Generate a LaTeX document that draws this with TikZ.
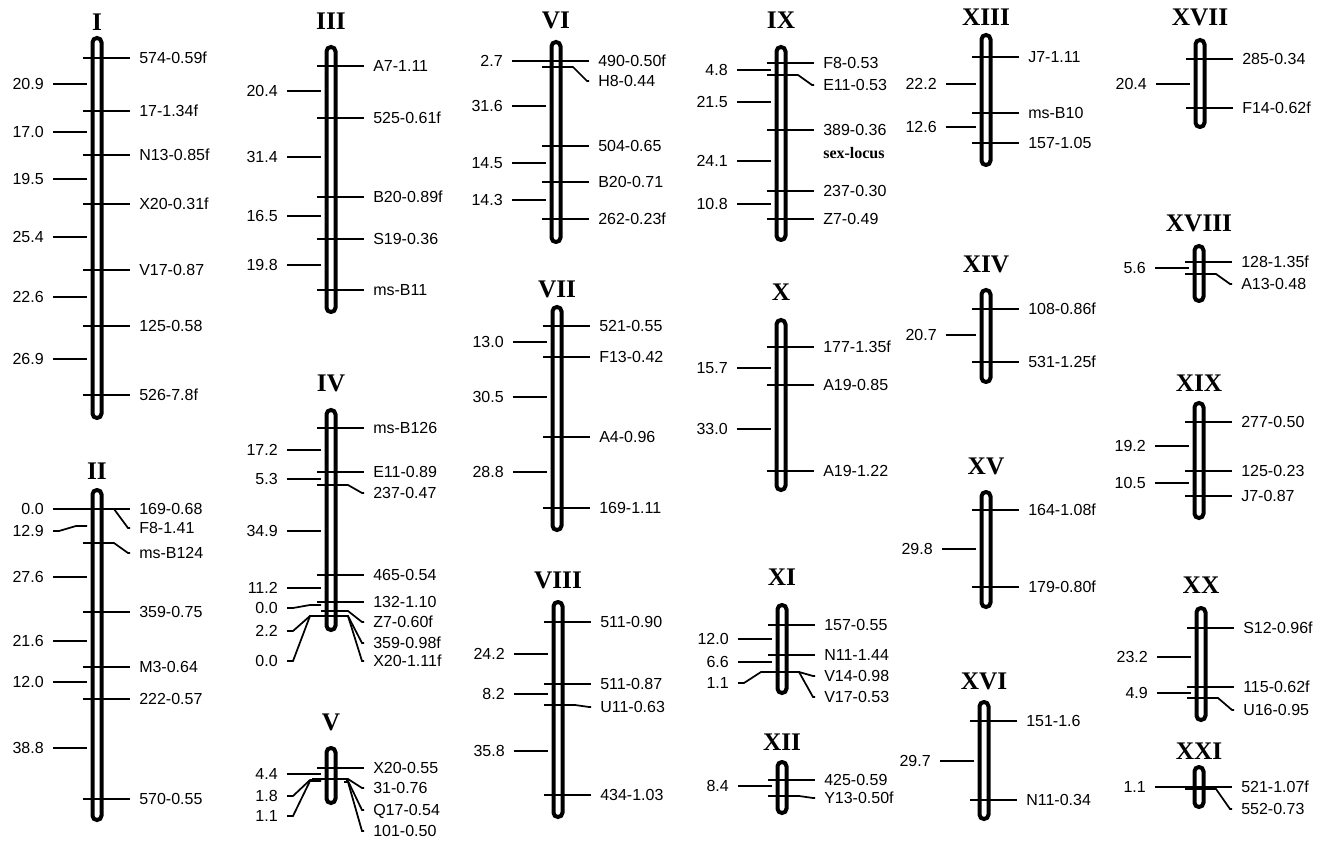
\documentclass[tikz,border=0pt]{standalone}
\usepackage{fontspec}
\setmainfont{Liberation Serif}
\newfontfamily\labfont{Liberation Sans}
\tikzset{
  chrombar/.style={line width=3pt, rounded corners=3.3pt, fill=white},
  tk/.style={line width=1.3pt},
  lab/.style={font=\labfont\fontsize{12}{14}\selectfont, inner sep=0pt, text height=8.6pt, text depth=0pt},
  ttl/.style={font=\bfseries\fontsize{19}{22}\selectfont, inner sep=0pt},
  sexlab/.style={font=\rmfamily\bfseries\fontsize{12}{14}\selectfont, inner sep=0pt, text height=8.6pt, text depth=0pt}
}
\newcommand\LGgap{53}
\newcommand\LGchrom[6]{% name x top bottom title titleY
  \node[ttl] (t#1) at (#2,#6) {#5};
  \draw[chrombar] (#2-4.5,#3) rectangle (#2+4.5,#4);}
\newcommand\LGmk[4]{% name x y text
  \coordinate (#1a) at (#2-14,#3);
  \node[lab,anchor=west] (#1) at (#2+42,#3) {#4};
  \draw[tk] (#1a) -- ([xshift=-6.75pt]#1.west);}
\newcommand\LGmkb[6]{% name x ytick ylab text startoffset
  \coordinate (#1a) at (#2-#6,#3);
  \node[lab,anchor=west] (#1) at (#2+42,#4) {#5};
  \draw[tk] (#1a) -- (#2+17,#3) -- (#2+31,#4) -- ([xshift=-6.75pt]#1.west);}
\newcommand\LGd[4]{% name x y text
  \node[lab,anchor=east] (#1) at (#2-\LGgap,#3) {#4};
  \coordinate (#1b) at (#2-10,#3);
  \draw[tk] ([xshift=6.75pt]#1.east) -- (#1b);}
\newcommand\LGdb[5]{% name x ylab ytick text
  \node[lab,anchor=east] (#1) at (#2-\LGgap,#3) {#5};
  \coordinate (#1b) at (#2-10,#4);
  \draw[tk] ([xshift=6.75pt]#1.east) -- (#2-38,#3) -- (#2-21,#4) -- (#1b);}
\begin{document}
\begin{tikzpicture}[x=0.75pt,y=-0.75pt]
\fill[white] (0,0) rectangle (1328,841);
\useasboundingbox (0,0) rectangle (1328,841);

% ---------- I ----------
\LGchrom{I}{97}{38}{418}{I}{22}
\LGmk{Ia}{97}{58}{574-0.59f}
\LGmk{Ib}{97}{111}{17-1.34f}
\LGmk{Ic}{97}{155}{N13-0.85f}
\LGmk{Id}{97}{204}{X20-0.31f}
\LGmk{Ie}{97}{270}{V17-0.87}
\LGmk{If}{97}{326}{125-0.58}
\LGmk{Ig}{97}{395}{526-7.8f}
\LGd{Ida}{97}{84}{20.9}
\LGd{Idb}{97}{132}{17.0}
\LGd{Idc}{97}{179}{19.5}
\LGd{Idd}{97}{237}{25.4}
\LGd{Ide}{97}{297}{22.6}
\LGd{Idf}{97}{359}{26.9}

% ---------- II ----------
\LGchrom{II}{97}{490}{820}{II}{471}
\LGmk{IIa}{97}{509}{169-0.68}
\LGmkb{IIb}{97}{509}{528}{F8-1.41}{-15}
\LGmkb{IIc}{97}{543}{553}{ms-B124}{14}
\LGmk{IId}{97}{612}{359-0.75}
\LGmk{IIe}{97}{667}{M3-0.64}
\LGmk{IIf}{97}{699}{222-0.57}
\LGmk{IIg}{97}{799}{570-0.55}
\LGd{IIda}{97}{509}{0.0}
\LGdb{IIdb}{97}{531}{526}{12.9}
\LGd{IIdc}{97}{577}{27.6}
\LGd{IIdd}{97}{641}{21.6}
\LGd{IIde}{97}{682}{12.0}
\LGd{IIdf}{97}{748}{38.8}

% ---------- III ----------
\LGchrom{III}{331}{47}{312}{III}{21}
\LGmk{IIIa}{331}{66}{A7-1.11}
\LGmk{IIIb}{331}{118}{525-0.61f}
\LGmk{IIIc}{331}{197}{B20-0.89f}
\LGmk{IIId}{331}{239}{S19-0.36}
\LGmk{IIIe}{331}{290}{ms-B11}
\LGd{IIIda}{331}{91}{20.4}
\LGd{IIIdb}{331}{157}{31.4}
\LGd{IIIdc}{331}{216}{16.5}
\LGd{IIIdd}{331}{265}{19.8}

% ---------- IV ----------
\LGchrom{IV}{331}{410}{630}{IV}{383}
\LGmk{IVa}{331}{428}{ms-B126}
\LGmk{IVb}{331}{472}{E11-0.89}
\LGmkb{IVc}{331}{485}{493}{237-0.47}{14}
\LGmk{IVd}{331}{575}{465-0.54}
\LGmk{IVe}{331}{602}{132-1.10}
\LGmkb{IVf}{331}{611}{622}{Z7-0.60f}{10}
\LGmkb{IVg}{331}{616}{643}{359-0.98f}{19}
\LGmkb{IVh}{331}{616}{661}{X20-1.11f}{-14}
\LGd{IVda}{331}{450}{17.2}
\LGd{IVdb}{331}{479}{5.3}
\LGd{IVdc}{331}{531}{34.9}
\LGd{IVdd}{331}{588}{11.2}
\LGdb{IVde}{331}{608}{605}{0.0}
\LGdb{IVdf}{331}{631}{616}{2.2}
\LGdb{IVdg}{331}{661}{616}{0.0}

% ---------- V ----------
\LGchrom{V}{331}{748}{803}{V}{722}
\LGmk{Va}{331}{768}{X20-0.55}
\LGmkb{Vb}{331}{779}{788}{31-0.76}{19}
\LGmkb{Vc}{331}{781}{810}{Q17-0.54}{-15}
\LGmkb{Vd}{331}{782}{831}{101-0.50}{-13}
\LGd{Vda}{331}{774}{4.4}
\LGdb{Vdb}{331}{796}{780}{1.8}
\LGdb{Vdc}{331}{816}{781}{1.1}

% ---------- VI ----------
\LGchrom{VI}{556}{42}{242}{VI}{20}
\LGmk{VIa}{556}{61}{490-0.50f}
\LGmkb{VIb}{556}{67}{81}{H8-0.44}{14}
\LGmk{VIc}{556}{146}{504-0.65}
\LGmk{VId}{556}{182}{B20-0.71}
\LGmk{VIe}{556}{219}{262-0.23f}
\LGd{VIda}{556}{61}{2.7}
\LGd{VIdb}{556}{106}{31.6}
\LGd{VIdc}{556}{163}{14.5}
\LGd{VIdd}{556}{200}{14.3}

% ---------- VII ----------
\LGchrom{VII}{557}{307}{530}{VII}{289}
\LGmk{VIIa}{557}{326}{521-0.55}
\LGmk{VIIb}{557}{357}{F13-0.42}
\LGmk{VIIc}{557}{437}{A4-0.96}
\LGmk{VIId}{557}{508}{169-1.11}
\LGd{VIIda}{557}{342}{13.0}
\LGd{VIIdb}{557}{397}{30.5}
\LGd{VIIdc}{557}{472}{28.8}

% ---------- VIII ----------
\LGchrom{VIII}{558}{602}{817}{VIII}{580}
\LGmk{VIIIa}{558}{622}{511-0.90}
\LGmk{VIIIb}{558}{684}{511-0.87}
\LGmkb{VIIIc}{558}{705}{707}{U11-0.63}{14}
\LGmk{VIIId}{558}{795}{434-1.03}
\LGd{VIIIda}{558}{654}{24.2}
\LGd{VIIIdb}{558}{694}{8.2}
\LGd{VIIIdc}{558}{751}{35.8}

% ---------- IX ----------
\LGchrom{IX}{781}{47}{240}{IX}{20}
\LGmk{IXa}{781}{63}{F8-0.53}
\LGmkb{IXb}{781}{75}{85}{E11-0.53}{14}
\LGmk{IXc}{781}{130}{389-0.36}
\node[sexlab,anchor=west] (sexlocus) at (781+42,153) {sex-locus};
\LGmk{IXd}{781}{191}{237-0.30}
\LGmk{IXe}{781}{219}{Z7-0.49}
\LGd{IXda}{781}{70}{4.8}
\LGd{IXdb}{781}{102}{21.5}
\LGd{IXdc}{781}{161}{24.1}
\LGd{IXdd}{781}{204}{10.8}

% ---------- X ----------
\LGchrom{X}{781}{320}{490}{X}{292}
\LGmk{Xa}{781}{347}{177-1.35f}
\LGmk{Xb}{781}{385}{A19-0.85}
\LGmk{Xc}{781}{471}{A19-1.22}
\LGd{Xda}{781}{368}{15.7}
\LGd{Xdb}{781}{429}{33.0}

% ---------- XI ----------
\LGchrom{XI}{782}{605}{693}{XI}{577}
\LGmk{XIa}{782}{625}{157-0.55}
\LGmk{XIb}{782}{655}{N11-1.44}
\LGmkb{XIc}{782}{672}{676}{V14-0.98}{14}
\LGmkb{XId}{782}{672}{697}{V17-0.53}{-15}
\LGd{XIda}{782}{639}{12.0}
\LGd{XIdb}{782}{662}{6.6}
\LGdb{XIdc}{782}{683}{672}{1.1}

% ---------- XII ----------
\LGchrom{XII}{782}{762}{813}{XII}{742}
\LGmk{XIIa}{782}{780}{425-0.59}
\LGmkb{XIIb}{782}{796}{798}{Y13-0.50f}{14}
\LGd{XIIda}{782}{786}{8.4}

% ---------- XIII ----------
\renewcommand\LGgap{49}
\LGchrom{XIII}{986}{35}{165}{XIII}{17}
\LGmk{XIIIa}{986}{57}{J7-1.11}
\LGmk{XIIIb}{986}{113}{ms-B10}
\LGmk{XIIIc}{986}{143}{157-1.05}
\LGd{XIIIda}{986}{84}{22.2}
\LGd{XIIIdb}{986}{127}{12.6}

% ---------- XIV ----------
\LGchrom{XIV}{986}{290}{382}{XIV}{264}
\LGmk{XIVa}{986}{309}{108-0.86f}
\LGmk{XIVb}{986}{362}{531-1.25f}
\LGd{XIVda}{986}{335}{20.7}
\renewcommand\LGgap{53}

% ---------- XV ----------
\LGchrom{XV}{986}{492}{607}{XV}{466}
\LGmk{XVa}{986}{510}{164-1.08f}
\LGmk{XVb}{986}{587}{179-0.80f}
\LGd{XVda}{986}{549}{29.8}

% ---------- XVI ----------
\LGchrom{XVI}{984}{702}{819}{XVI}{681}
\LGmk{XVIa}{984}{721}{151-1.6}
\LGmk{XVIb}{984}{800}{N11-0.34}
\LGd{XVIda}{984}{761}{29.7}

% ---------- XVII ----------
\LGchrom{XVII}{1200}{40}{127}{XVII}{17}
\LGmk{XVIIa}{1200}{59}{285-0.34}
\LGmk{XVIIb}{1200}{108}{F14-0.62f}
\LGd{XVIIda}{1200}{84}{20.4}

% ---------- XVIII ----------
\LGchrom{XVIII}{1199}{246}{301}{XVIII}{223}
\LGmk{XVIIIa}{1199}{262}{128-1.35f}
\LGmkb{XVIIIb}{1199}{274}{284}{A13-0.48}{14}
\LGd{XVIIIda}{1199}{268}{5.6}

% ---------- XIX ----------
\LGchrom{XIX}{1199}{403}{518}{XIX}{383}
\LGmk{XIXa}{1199}{422}{277-0.50}
\LGmk{XIXb}{1199}{471}{125-0.23}
\LGmk{XIXc}{1199}{496}{J7-0.87}
\LGd{XIXda}{1199}{446}{19.2}
\LGd{XIXdb}{1199}{483}{10.5}

% ---------- XX ----------
\LGchrom{XX}{1201}{608}{720}{XX}{585}
\LGmk{XXa}{1201}{628}{S12-0.96f}
\LGmk{XXb}{1201}{687}{115-0.62f}
\LGmkb{XXc}{1201}{698}{710}{U16-0.95}{14}
\LGd{XXda}{1201}{657}{23.2}
\LGd{XXdb}{1201}{693}{4.9}

% ---------- XXI ----------
\LGchrom{XXI}{1199}{767}{807}{XXI}{751}
\LGmk{XXIa}{1199}{787}{521-1.07f}
\LGmkb{XXIb}{1199}{789}{809}{552-0.73}{14}
\LGd{XXIda}{1199}{787}{1.1}
\end{tikzpicture}
\end{document}
